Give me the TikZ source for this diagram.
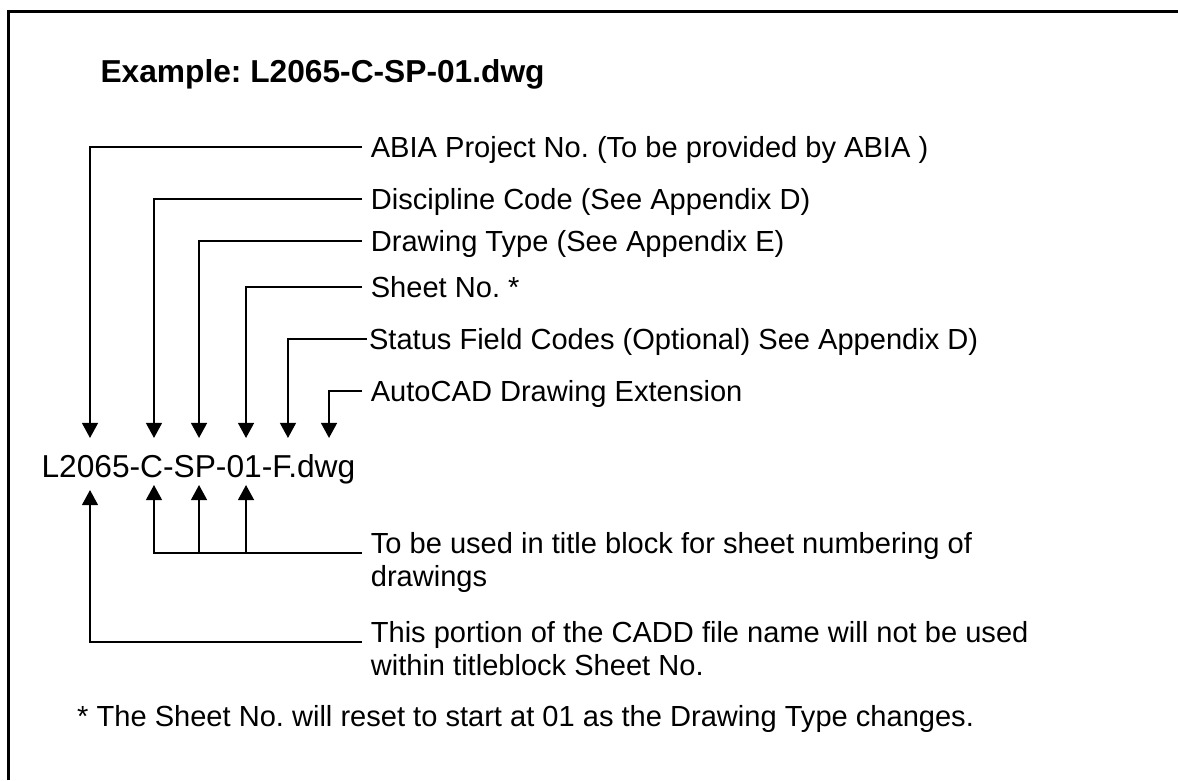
\documentclass[tikz,border=0pt]{standalone}
\usepackage{fontspec}
\setmainfont{Liberation Sans}
\usetikzlibrary{arrows.meta}
\definecolor{Ink}{RGB}{0,0,0}
\frenchspacing
\tikzset{
  >=Triangle,
  frameline/.style={line width=1.3pt,draw=Ink},
  leader/.style={-{Triangle[length=2mm,width=2.1mm]},line width=.75pt,draw=Ink},
  partlabel/.style={anchor=west,inner xsep=.11cm,inner ysep=0pt,text height=7.9pt,text depth=0pt,font=\fontsize{11}{12.6}\selectfont,text=Ink},
  remark/.style={anchor=base west,inner xsep=.11cm,inner ysep=0pt,font=\fontsize{11}{12.6}\selectfont,text=Ink},
  heading/.style={anchor=base west,inner sep=0pt,font=\bfseries\fontsize{12}{14.4}\selectfont,text=Ink},
  filename/.style={anchor=base west,inner sep=0pt,font=\fontsize{12}{14.4}\selectfont,text=Ink}
}

\begin{document}
\begin{tikzpicture}[x=1cm,y=1cm]
  \useasboundingbox (0,0) rectangle (15.667,10.374);
  \draw[frameline] (0.113,0) -- (0.113,10.221) -- (15.667,10.221);
  \node[heading] (title) at (1.33,9.283) {Example: L2065-C-SP-01.dwg};
  \node[filename] (fname) at (0.545,4.017) {L2065-C-SP-01-F.dwg};
  % parts of the name
  \node[partlabel] (proj) at (4.815,8.419) {ABIA Project No. (To be provided by ABIA )};
  \node[partlabel] (disc) at (4.815,7.727) {Discipline Code (See Appendix D)};
  \node[partlabel] (dtype) at (4.815,7.169) {Drawing Type (See Appendix E)};
  \node[partlabel] (sheet) at (4.815,6.557) {Sheet No. *};
  \node[partlabel,inner xsep=.02cm] (status) at (4.881,5.865) {Status Field Codes (Optional) See Appendix D)};
  \node[partlabel] (ext) at (4.815,5.174) {AutoCAD Drawing Extension};
  \coordinate (tProj) at (1.197,4.549);
  \coordinate (tDisc) at (2.048,4.549);
  \coordinate (tType) at (2.647,4.549);
  \coordinate (tSheet) at (3.272,4.549);
  \coordinate (tStat) at (3.830,4.549);
  \coordinate (tExt) at (4.376,4.549);
  \draw[leader] (proj.west) -| (tProj);
  \draw[leader] (disc.west) -| (tDisc);
  \draw[leader] (dtype.west) -| (tType);
  \draw[leader] (sheet.west) -| (tSheet);
  \draw[leader] (status.west) -| (tStat);
  \draw[leader] (ext.west) -| (tExt);
  % sheet numbering and unused portion
  \node[remark] (tblock) at (4.815,3.019) {\begin{tabular}[t]{@{}l@{}}To be used in title block for sheet numbering of\\drawings\end{tabular}};
  \node[remark] (unused) at (4.815,1.835) {\begin{tabular}[t]{@{}l@{}}This portion of the CADD file name will not be used\\within titleblock Sheet No.\end{tabular}};
  \coordinate (uL) at (1.197,3.857);
  \coordinate (uC) at (2.048,3.924);
  \coordinate (uSP) at (2.647,3.924);
  \coordinate (uNo) at (3.272,3.924);
  \draw[leader] (tblock.base west) -| (uC);
  \draw[leader] (uSP |- tblock.base) -- (uSP);
  \draw[leader] (uNo |- tblock.base) -- (uNo);
  \draw[leader] (unused.base west) -| (uL);
  \node[remark,inner xsep=.02cm] (foot) at (1.0,0.718) {* The Sheet No. will reset to start at 01 as the Drawing Type changes.};
\end{tikzpicture}
\end{document}
